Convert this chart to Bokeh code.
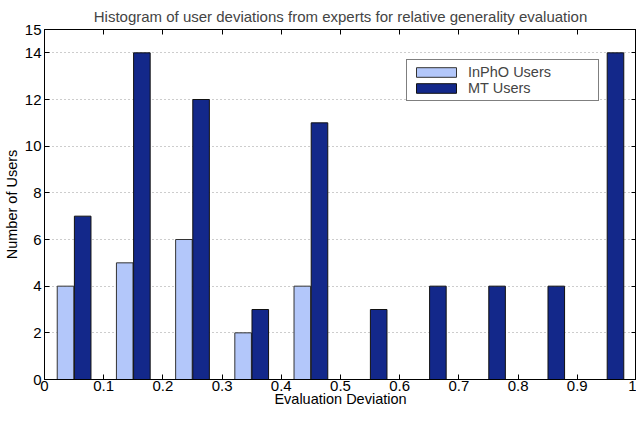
from bokeh.plotting import figure
from bokeh.models import (FixedTicker, LinearAxis, CustomJSTickFormatter, Range1d,
                          Legend, LegendItem, ColumnDataSource)
from bokeh.embed import file_html
from bokeh.resources import INLINE

# ---- data ----
bin_centers = [0.05, 0.15, 0.25, 0.35, 0.45, 0.55, 0.65, 0.75, 0.85, 0.95]
inpho_users = [4, 5, 6, 2, 4, 0, 0, 0, 0, 0]
mt_users = [7, 14, 12, 3, 11, 3, 4, 4, 4, 14]
x_ticks = [0, 0.1, 0.2, 0.3, 0.4, 0.5, 0.6, 0.7, 0.8, 0.9, 1.0]
y_ticks = [0, 2, 4, 6, 8, 10, 12, 14, 15]

LIGHT = "#b3c7fa"
DARK = "#13288a"
FONT = "Liberation Sans"

bar_w = 0.028
offset = 0.0145

src_a = ColumnDataSource(dict(x=[c - offset for c in bin_centers], top=inpho_users))
src_b = ColumnDataSource(dict(x=[c + offset for c in bin_centers], top=mt_users))

p = figure(width=636, height=409, output_backend="svg", toolbar_location=None,
           x_range=Range1d(0, 1), y_range=Range1d(0, 15),
           min_border_left=38, min_border_right=0, min_border_top=24, min_border_bottom=28)

p.title.text = "Histogram of user deviations from experts for relative generality evaluation"
p.title.align = "center"
p.title.text_font = FONT
p.title.text_font_size = "15px"
p.title.text_font_style = "normal"
p.title.standoff = 10

r_a = p.vbar(x="x", top="top", width=bar_w, bottom=0, source=src_a,
             fill_color=LIGHT, line_color="#333333", line_width=1)
r_b = p.vbar(x="x", top="top", width=bar_w, bottom=0, source=src_b,
             fill_color=DARK, line_color="#111111", line_width=1)

fmt = CustomJSTickFormatter(code="return (Math.round(tick*10)/10).toString();")

for ax in [p.xaxis[0], p.yaxis[0]]:
    ax.major_tick_in = 5
    ax.major_tick_out = 0
    ax.minor_tick_line_color = None
    ax.axis_line_color = "black"
    ax.major_tick_line_color = "black"
    ax.major_label_text_font = FONT
    ax.major_label_text_font_size = "15px"
    ax.major_label_text_color = "black"
    ax.axis_label_text_font = FONT
    ax.axis_label_text_font_size = "14.5px"
    ax.axis_label_text_font_style = "normal"
    ax.axis_label_text_color = "black"

p.xaxis[0].ticker = FixedTicker(ticks=x_ticks)
p.xaxis[0].formatter = fmt
p.xaxis[0].axis_label = "Evaluation Deviation"
p.xaxis[0].major_label_standoff = 1
p.xaxis[0].axis_label_standoff = -3

p.yaxis[0].ticker = FixedTicker(ticks=y_ticks)
p.yaxis[0].axis_label = "Number of Users"
p.yaxis[0].major_label_standoff = 3
p.yaxis[0].axis_label_standoff = 2

top_ax = LinearAxis(ticker=FixedTicker(ticks=x_ticks), major_label_text_font_size="0px",
                    major_label_text_color=None,
                    major_tick_in=5, major_tick_out=0, minor_tick_line_color=None,
                    major_label_standoff=0, axis_line_color="black")
right_ax = LinearAxis(ticker=FixedTicker(ticks=y_ticks), major_label_text_font_size="0px",
                      major_label_text_color=None,
                      major_tick_in=5, major_tick_out=0, minor_tick_line_color=None,
                      major_label_standoff=0, axis_line_color="black")
p.add_layout(top_ax, "above")
p.add_layout(right_ax, "right")

p.xgrid.visible = False
p.ygrid.ticker = FixedTicker(ticks=y_ticks)
p.ygrid.grid_line_color = "#9a9a9a"
p.ygrid.grid_line_dash = "1 3"
p.ygrid.grid_line_width = 1

p.outline_line_color = "black"
p.background_fill_color = "white"
p.border_fill_color = "white"

legend = Legend(items=[LegendItem(label="InPhO Users", renderers=[r_a]),
                       LegendItem(label="MT Users", renderers=[r_b])],
                location=(362, 278))
legend.label_text_font = FONT
legend.label_text_font_size = "14.5px"
legend.glyph_width = 50
legend.glyph_height = 12
legend.label_height = 13
legend.label_width = 126
legend.label_standoff = 7
legend.spacing = 0
legend.padding = 4
legend.margin = 0
legend.border_line_color = "black"
legend.border_line_width = 1
legend.background_fill_alpha = 1
p.add_layout(legend, "center")

open("out.html", "w").write(file_html(p, INLINE))
